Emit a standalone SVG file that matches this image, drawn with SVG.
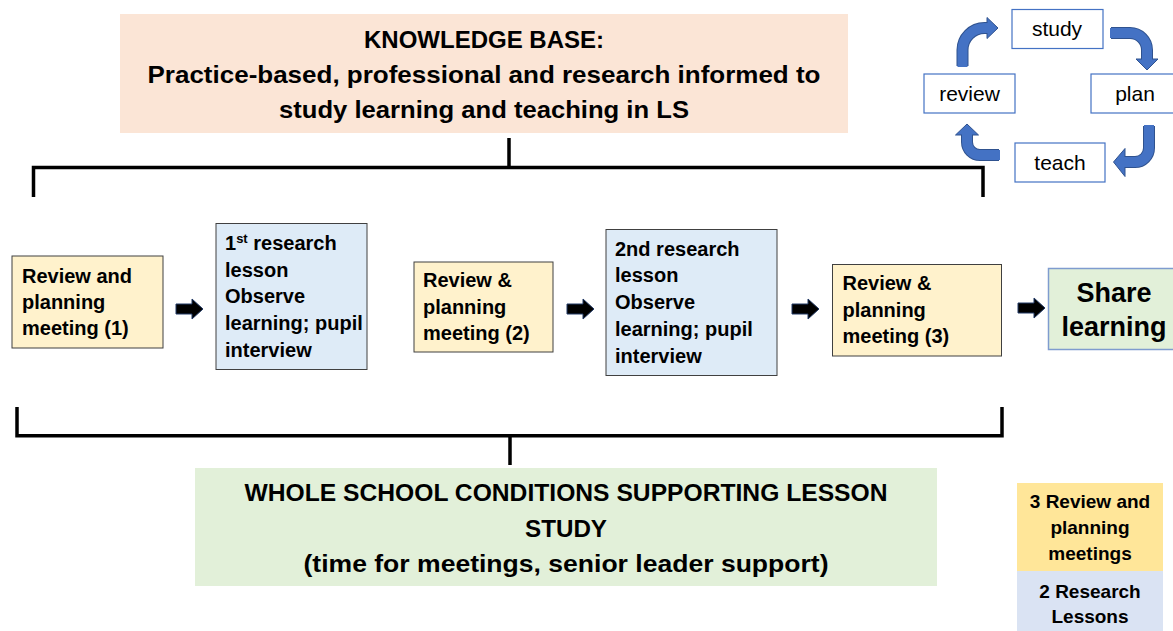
<svg xmlns="http://www.w3.org/2000/svg" width="1173" height="631" viewBox="0 0 1173 631">
  <style>
    text { font-family: "Liberation Sans", Arial, sans-serif; fill: #000; }
    .b { font-weight: bold; }
    .head { font-size: 24px; font-weight: bold; text-anchor: middle; }
    .step { font-size: 20px; font-weight: bold; }
    .cyc { font-size: 21px; text-anchor: middle; }
    .key { font-size: 19px; font-weight: bold; text-anchor: middle; }
    .meet { fill: #FFF2CC; stroke: #404040; stroke-width: 1; }
    .lesson { fill: #DEEBF7; stroke: #404040; stroke-width: 1; }
    .cbox { fill: #FFFFFF; stroke: #4472C4; stroke-width: 1.2; }
    .bracket { fill: none; stroke: #000; stroke-width: 3.5; stroke-linecap: butt; stroke-linejoin: miter; }
    .bendOut { fill: none; stroke: #2F528F; stroke-width: 12; }
    .bendIn { fill: none; stroke: #4472C4; stroke-width: 10; }
    .bendHead { fill: #4472C4; stroke: #2F528F; stroke-width: 1; stroke-linejoin: miter; }
  </style>
  <defs>
    <!-- small block arrow between the steps -->
    <path id="blockArrow" d="M0,-5 H16 V-10 L27,0 L16,10 V5 H0 Z" fill="#000" stroke="#203864" stroke-width="1"/>
  </defs>

  <!-- knowledge base banner -->
  <g id="knowledge-base">
    <rect x="120" y="14" width="728" height="119" fill="#FBE5D6"/>
    <text class="head" x="484" y="48" textLength="240" lengthAdjust="spacingAndGlyphs">KNOWLEDGE BASE:</text>
    <text class="head" x="484" y="83" textLength="673" lengthAdjust="spacingAndGlyphs">Practice-based, professional and research informed to</text>
    <text class="head" x="484" y="118" textLength="410" lengthAdjust="spacingAndGlyphs">study learning and teaching in LS</text>
  </g>

  <!-- study / plan / teach / review cycle -->
  <g id="cycle-study">
    <rect class="cbox" x="1012" y="9.5" width="91" height="39"/>
    <text class="cyc" x="1057" y="36">study</text>
  </g>
  <g id="cycle-plan">
    <rect class="cbox" x="1091" y="74" width="90" height="39"/>
    <text class="cyc" x="1135" y="101">plan</text>
  </g>
  <g id="cycle-teach">
    <rect class="cbox" x="1015" y="143" width="90" height="39"/>
    <text class="cyc" x="1060" y="170">teach</text>
  </g>
  <g id="cycle-review">
    <rect class="cbox" x="924" y="74" width="91" height="39"/>
    <text class="cyc" x="969.5" y="101">review</text>
  </g>

  <!-- process steps -->
  <g id="step-meeting-1">
    <rect class="meet" x="12" y="256" width="151" height="92"/>
    <text class="step" x="22" y="283">Review and</text>
    <text class="step" x="22" y="309">planning</text>
    <text class="step" x="22" y="335">meeting (1)</text>
  </g>
  <g id="step-lesson-1">
    <rect class="lesson" x="216" y="223.5" width="151" height="146"/>
    <text class="step" x="225" y="250">1<tspan font-size="13" baseline-shift="super">st</tspan> research</text>
    <text class="step" x="225" y="276.7">lesson</text>
    <text class="step" x="225" y="303.3">Observe</text>
    <text class="step" x="225" y="330">learning; pupil</text>
    <text class="step" x="225" y="356.7">interview</text>
  </g>
  <g id="step-meeting-2">
    <rect class="meet" x="414" y="262" width="139" height="90"/>
    <text class="step" x="423" y="287">Review &amp;</text>
    <text class="step" x="423" y="313.5">planning</text>
    <text class="step" x="423" y="340">meeting (2)</text>
  </g>
  <g id="step-lesson-2">
    <rect class="lesson" x="606" y="229.5" width="171" height="146"/>
    <text class="step" x="615" y="255.5">2nd research</text>
    <text class="step" x="615" y="282.3">lesson</text>
    <text class="step" x="615" y="309">Observe</text>
    <text class="step" x="615" y="335.8">learning; pupil</text>
    <text class="step" x="615" y="362.5">interview</text>
  </g>
  <g id="step-meeting-3">
    <rect class="meet" x="832.5" y="264.5" width="169" height="91.5"/>
    <text class="step" x="842.5" y="290">Review &amp;</text>
    <text class="step" x="842.5" y="316.7">planning</text>
    <text class="step" x="842.5" y="343.3">meeting (3)</text>
  </g>
  <g id="step-share">
    <rect x="1048.5" y="268.5" width="130" height="81" fill="#E2F0D9" stroke="#7F9CCF" stroke-width="1.5"/>
    <text x="1114" y="302" font-size="27" class="b" text-anchor="middle">Share</text>
    <text x="1114" y="336" font-size="27" class="b" text-anchor="middle">learning</text>
  </g>

  <!-- whole school conditions banner -->
  <g id="school-conditions">
    <rect x="195" y="468" width="742" height="118" fill="#E2F0D9"/>
    <text class="head" x="566" y="501" textLength="643" lengthAdjust="spacingAndGlyphs">WHOLE SCHOOL CONDITIONS SUPPORTING LESSON</text>
    <text class="head" x="566" y="537" textLength="82" lengthAdjust="spacingAndGlyphs">STUDY</text>
    <text class="head" x="566" y="572" textLength="525" lengthAdjust="spacingAndGlyphs">(time for meetings, senior leader support)</text>
  </g>

  <!-- key -->
  <g id="key">
    <rect x="1017" y="483" width="146" height="88" fill="#FFE699"/>
    <rect x="1017" y="571" width="146" height="60" fill="#DAE3F3"/>
    <text class="key" x="1090" y="508">3 Review and</text>
    <text class="key" x="1090" y="534">planning</text>
    <text class="key" x="1090" y="560">meetings</text>
    <text class="key" x="1090" y="598">2 Research</text>
    <text class="key" x="1090" y="623">Lessons</text>
  </g>

  <!-- connectors -->
  <g id="connectors">
    <!-- brackets -->
    <path class="bracket" d="M509,138 V167.5 M33.5,197 V167.5 H983 V197"/>
    <path class="bracket" d="M510,465 V435.7 M17,407 V435.7 H1002 V407"/>

    <!-- step arrows -->
    <use href="#blockArrow" transform="translate(176,309)"/>
    <use href="#blockArrow" transform="translate(567,309)"/>
    <use href="#blockArrow" transform="translate(792,309)"/>
    <use href="#blockArrow" transform="translate(1018,308)"/>

    <!-- cycle arrows: outline, head, then fill -->
    <path class="bendOut" d="M962.5,66 V50 A22,22 0 0 1 984.5,28 H988"/>
    <polygon class="bendHead" points="987,17.5 998,28 987,38.5"/>
    <path class="bendIn" d="M962.5,67 V50 A22,22 0 0 1 984.5,28 H988"/>

    <path class="bendOut" d="M1111,33 H1130 A17,17 0 0 1 1147,50 V60"/>
    <polygon class="bendHead" points="1136,59 1147,70 1158,59"/>
    <path class="bendIn" d="M1110,33 H1130 A17,17 0 0 1 1147,50 V60"/>

    <path class="bendOut" d="M1149,126 V148 A14,14 0 0 1 1135,162 H1124"/>
    <polygon class="bendHead" points="1125,148.5 1113.5,162 1125,176.5"/>
    <path class="bendIn" d="M1149,125 V148 A14,14 0 0 1 1135,162 H1124"/>

    <path class="bendOut" d="M999,155 H980 A13,13 0 0 1 967,142 V134"/>
    <polygon class="bendHead" points="955.5,135 967,124 978.5,135"/>
    <path class="bendIn" d="M1000,155 H980 A13,13 0 0 1 967,142 V134"/>
  </g>
</svg>
